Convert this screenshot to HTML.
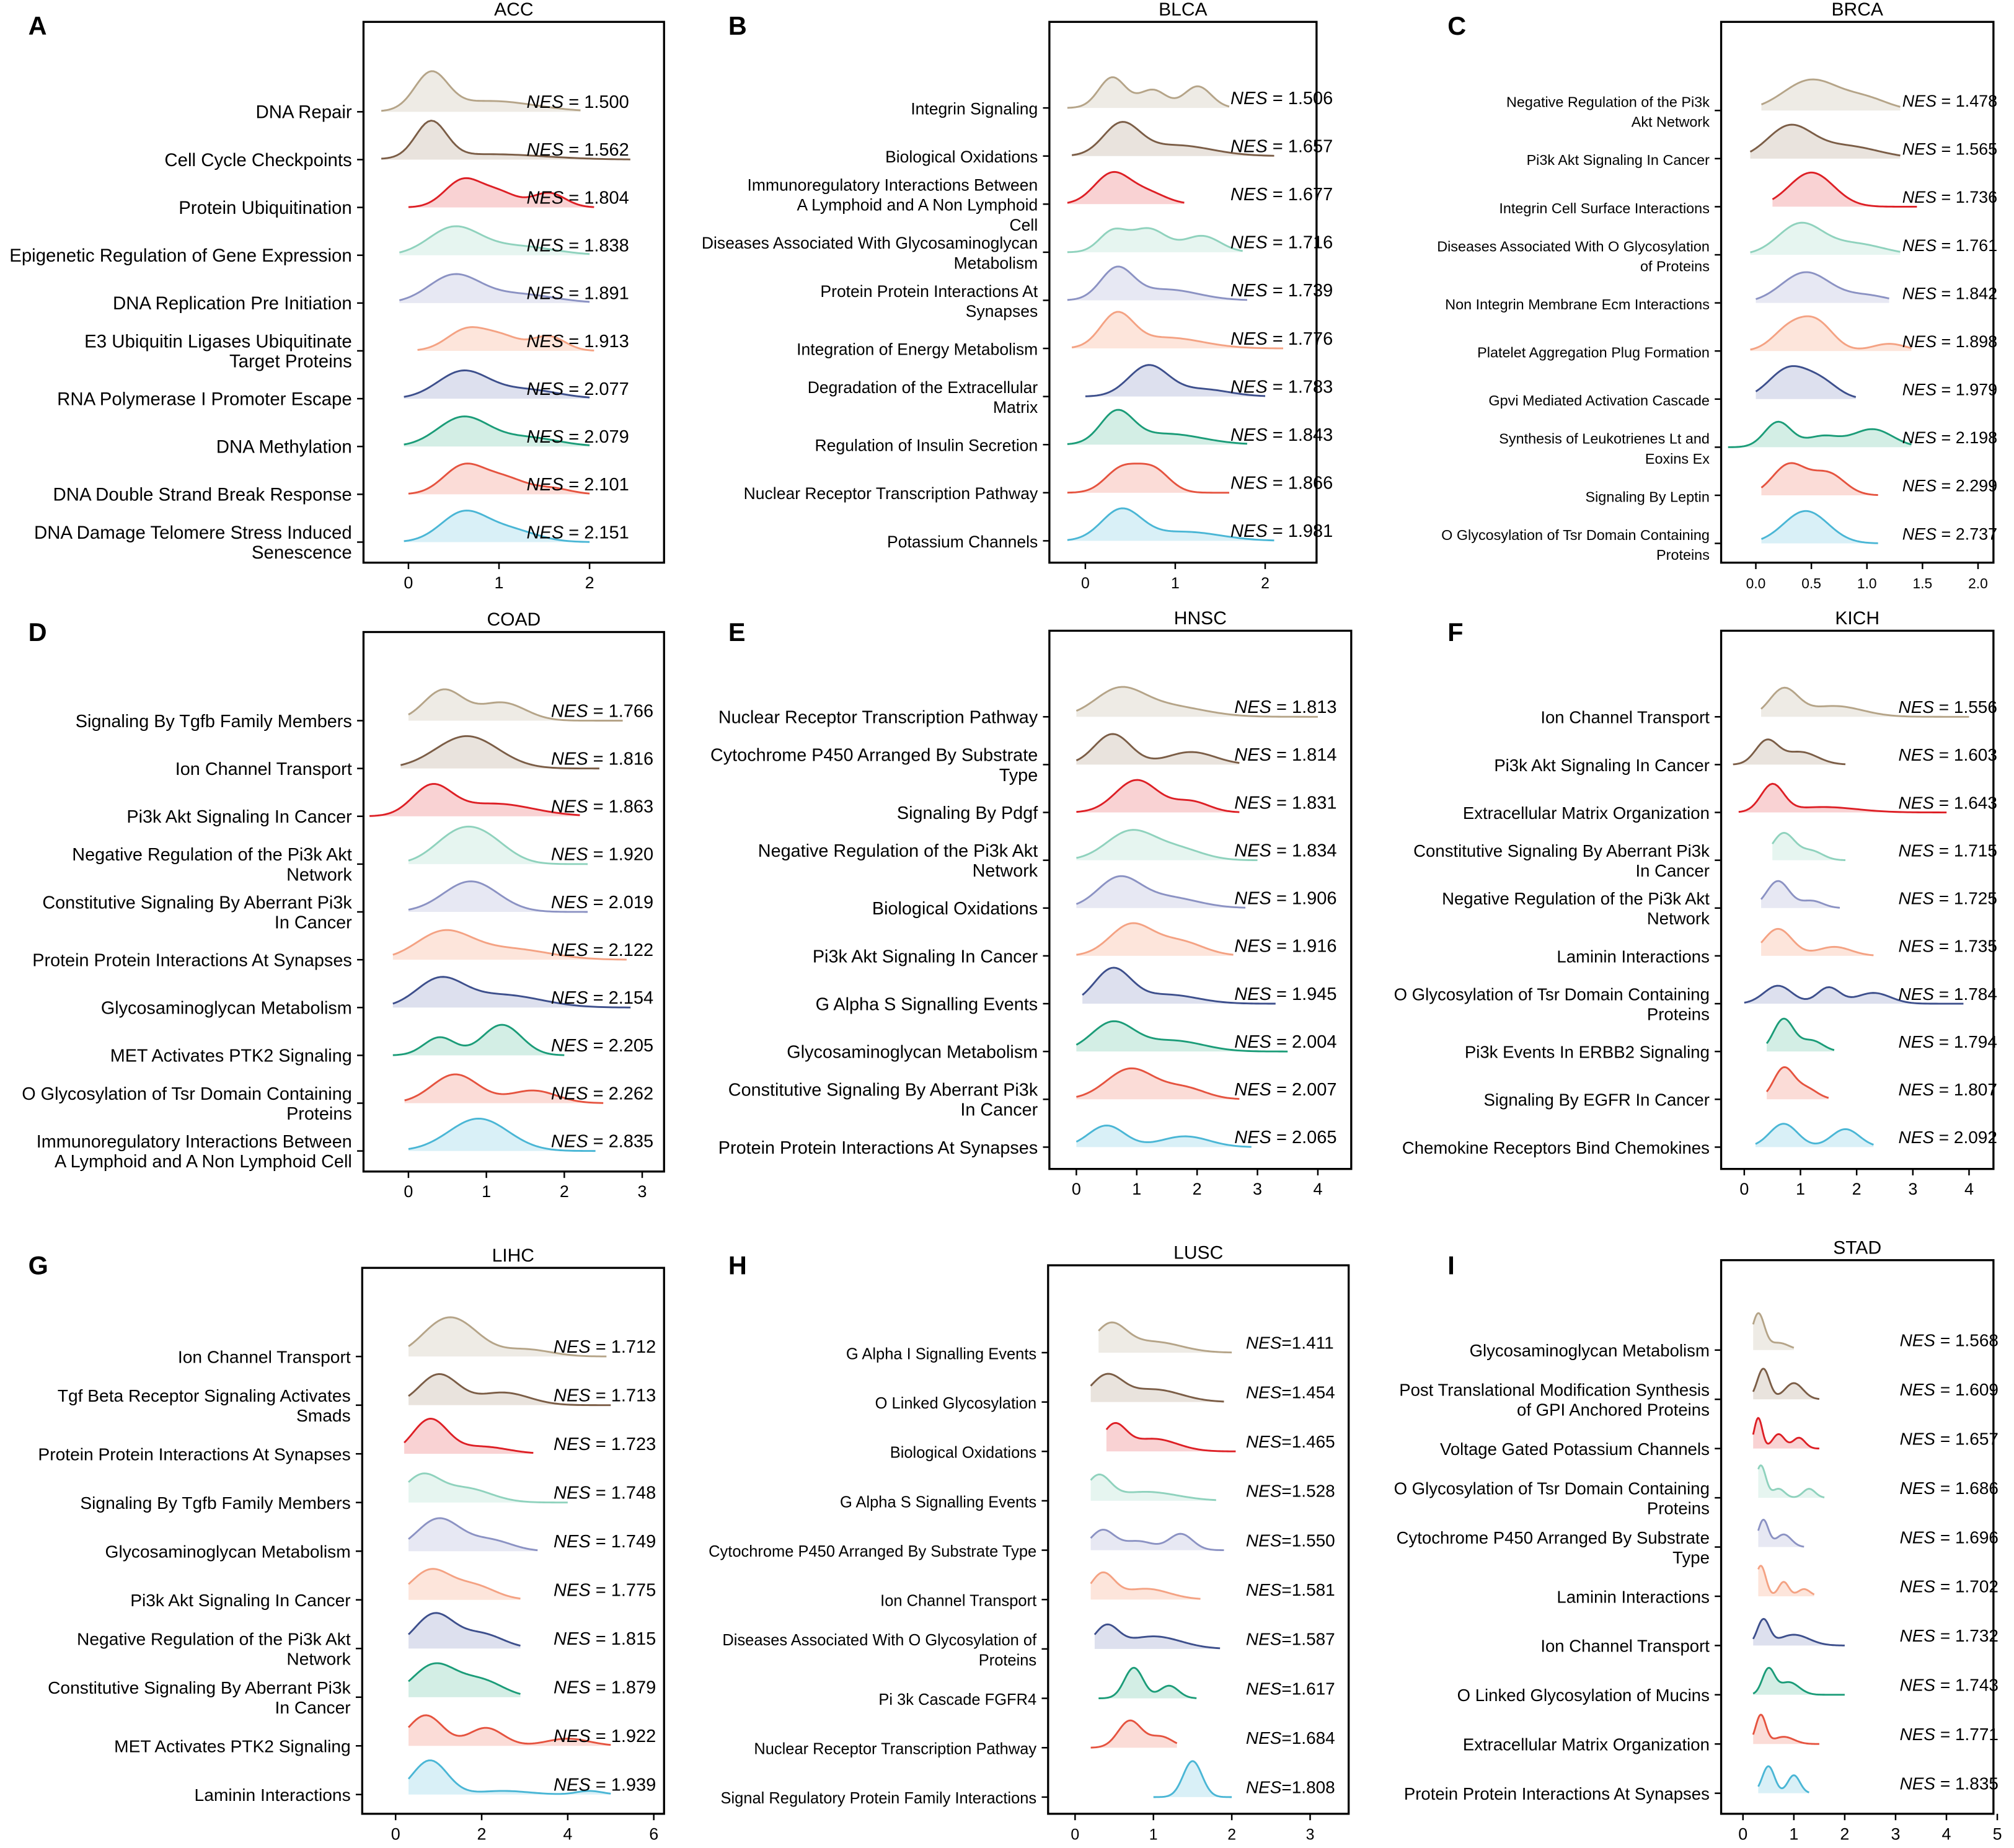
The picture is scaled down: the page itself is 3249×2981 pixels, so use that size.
<!DOCTYPE html>
<html><head><meta charset="utf-8"><style>
html,body{margin:0;padding:0;background:#fff;}
svg{display:block;font-family:"Liberation Sans",Arial,sans-serif;}
</style></head><body>
<svg id="fig" width="3249" height="2981" viewBox="0 0 1568 1438.6" xmlns="http://www.w3.org/2000/svg"></svg>
<script>
// ---- data ----
const colors=["#b5a488","#7b5d46","#dd1f25","#8fd2bd","#8b92c3","#f4a283","#3d4f8c","#1b9c78","#e5533f","#4ab6d5"];
const fills=["#eeebe5","#e9e3dd","#f9d2d3","#e6f5f0","#e7e8f3","#fde5db","#dde0ee","#d3eee5","#fbdcd7","#d9f0f7"];

const panelLetters=["A","B","C","D","E","F","G","H","I"];
const panelTitles=["ACC","BLCA","BRCA","COAD","HNSC","KICH","LIHC","LUSC","STAD"];

const labelsA=["DNA Repair","Cell Cycle Checkpoints","Protein Ubiquitination","Epigenetic Regulation of Gene Expression","DNA Replication Pre Initiation","E3 Ubiquitin Ligases Ubiquitinate\nTarget Proteins","RNA Polymerase I Promoter Escape","DNA Methylation","DNA Double Strand Break Response","DNA Damage Telomere Stress Induced\nSenescence"];
const labelsB=["Integrin Signaling","Biological Oxidations","Immunoregulatory Interactions Between\nA Lymphoid and A Non Lymphoid\nCell","Diseases Associated With Glycosaminoglycan\nMetabolism","Protein Protein Interactions At\nSynapses","Integration of Energy Metabolism","Degradation of the Extracellular\nMatrix","Regulation of Insulin Secretion","Nuclear Receptor Transcription Pathway","Potassium Channels"];
const labelsC=["Negative Regulation of the Pi3k\nAkt Network","Pi3k Akt Signaling In Cancer","Integrin Cell Surface Interactions","Diseases Associated With O Glycosylation\nof Proteins","Non Integrin Membrane Ecm Interactions","Platelet Aggregation Plug Formation","Gpvi Mediated Activation Cascade","Synthesis of Leukotrienes Lt and\nEoxins Ex","Signaling By Leptin","O Glycosylation of Tsr Domain Containing\nProteins"];
const labelsD=["Signaling By Tgfb Family Members","Ion Channel Transport","Pi3k Akt Signaling In Cancer","Negative Regulation of the Pi3k Akt\nNetwork","Constitutive Signaling By Aberrant Pi3k\nIn Cancer","Protein Protein Interactions At Synapses","Glycosaminoglycan Metabolism","MET Activates PTK2 Signaling","O Glycosylation of Tsr Domain Containing\nProteins","Immunoregulatory Interactions Between\nA Lymphoid and A Non Lymphoid Cell"];
const labelsE=["Nuclear Receptor Transcription Pathway","Cytochrome P450 Arranged By Substrate\nType","Signaling By Pdgf","Negative Regulation of the Pi3k Akt\nNetwork","Biological Oxidations","Pi3k Akt Signaling In Cancer","G Alpha S Signalling Events","Glycosaminoglycan Metabolism","Constitutive Signaling By Aberrant Pi3k\nIn Cancer","Protein Protein Interactions At Synapses"];
const labelsF=["Ion Channel Transport","Pi3k Akt Signaling In Cancer","Extracellular Matrix Organization","Constitutive Signaling By Aberrant Pi3k\nIn Cancer","Negative Regulation of the Pi3k Akt\nNetwork","Laminin Interactions","O Glycosylation of Tsr Domain Containing\nProteins","Pi3k Events In ERBB2 Signaling","Signaling By EGFR In Cancer","Chemokine Receptors Bind Chemokines"];
const labelsG=["Ion Channel Transport","Tgf Beta Receptor Signaling Activates\nSmads","Protein Protein Interactions At Synapses","Signaling By Tgfb Family Members","Glycosaminoglycan Metabolism","Pi3k Akt Signaling In Cancer","Negative Regulation of the Pi3k Akt\nNetwork","Constitutive Signaling By Aberrant Pi3k\nIn Cancer","MET Activates PTK2 Signaling","Laminin Interactions"];
const labelsH=["G Alpha I Signalling Events","O Linked Glycosylation","Biological Oxidations","G Alpha S Signalling Events","Cytochrome P450 Arranged By Substrate Type","Ion Channel Transport","Diseases Associated With O Glycosylation of\nProteins","Pi 3k Cascade FGFR4","Nuclear Receptor Transcription Pathway","Signal Regulatory Protein Family Interactions"];
const labelsI=["Glycosaminoglycan Metabolism","Post Translational Modification Synthesis\nof GPI Anchored Proteins","Voltage Gated Potassium Channels","O Glycosylation of Tsr Domain Containing\nProteins","Cytochrome P450 Arranged By Substrate\nType","Laminin Interactions","Ion Channel Transport","O Linked Glycosylation of Mucins","Extracellular Matrix Organization","Protein Protein Interactions At Synapses"];

const nesA=["1.500","1.562","1.804","1.838","1.891","1.913","2.077","2.079","2.101","2.151"];
const nesB=["1.506","1.657","1.677","1.716","1.739","1.776","1.783","1.843","1.866","1.981"];
const nesC=["1.478","1.565","1.736","1.761","1.842","1.898","1.979","2.198","2.299","2.737"];
const nesD=["1.766","1.816","1.863","1.920","2.019","2.122","2.154","2.205","2.262","2.835"];
const nesE=["1.813","1.814","1.831","1.834","1.906","1.916","1.945","2.004","2.007","2.065"];
const nesF=["1.556","1.603","1.643","1.715","1.725","1.735","1.784","1.794","1.807","2.092"];
const nesG=["1.712","1.713","1.723","1.748","1.749","1.775","1.815","1.879","1.922","1.939"];
const nesH=["1.411","1.454","1.465","1.528","1.550","1.581","1.587","1.617","1.684","1.808"];
const nesI=["1.568","1.609","1.657","1.686","1.696","1.702","1.732","1.743","1.771","1.835"];

// density ranges [min,max] and mixture components [mu,sd,amp]
const rangeA=[[-.3,1.9],[-.3,2.45],[0,2.05],[-.1,2.0],[-.1,2.0],[.1,2.05],[-.05,2.0],[-.05,2.0],[0,2.0],[-.05,2.0]];
const compA=[[[.25,.18,1],[.9,.5,.3]],[[.25,.17,1],[.9,.6,.15]],[[.6,.2,.75],[1.0,.2,.4],[1.55,.18,.4]],[[.5,.28,.75],[1.2,.4,.25]],[[.5,.28,.75],[1.2,.4,.25]],[[.65,.22,.6],[1.05,.2,.35],[1.55,.18,.4]],[[.6,.28,.75],[1.3,.35,.25]],[[.6,.28,.8],[1.3,.35,.25]],[[.6,.22,.75],[1.05,.25,.45],[1.6,.2,.15]],[[.6,.25,.78],[1.1,.3,.35]]];
const rangeB=[[-.2,1.6],[-.15,2.1],[-.2,1.1],[-.2,1.75],[-.2,1.8],[-.15,2.2],[0,2.0],[-.2,1.8],[-.2,1.6],[-.2,2.1]];
const compB=[[[.3,.15,.85],[.75,.15,.5],[1.25,.15,.6]],[[.4,.2,.85],[1.0,.4,.3]],[[.3,.2,.85],[.7,.2,.3]],[[.3,.15,.55],[.7,.2,.65],[1.3,.2,.45]],[[.35,.18,.85],[.9,.35,.3]],[[.35,.18,.9],[.9,.4,.3]],[[.7,.22,.85],[1.3,.3,.2]],[[.35,.18,.85],[.9,.4,.3]],[[.4,.18,.65],[.75,.18,.65]],[[.4,.22,.85],[1.1,.4,.25]]];
const rangeC=[[.05,1.3],[-.05,1.3],[.15,1.45],[-.05,1.3],[0,1.2],[-.05,1.4],[0,.9],[-.25,1.4],[.05,1.1],[.05,1.1]];
const compC=[[[.5,.25,.85],[1.0,.2,.3]],[[.3,.2,.85],[.8,.3,.35]],[[.5,.2,.95]],[[.4,.2,.85],[.9,.25,.3]],[[.45,.22,.85],[1.0,.2,.2]],[[.3,.15,.6],[.55,.15,.75],[1.2,.15,.2]],[[.3,.18,.85],[.6,.15,.4]],[[.2,.12,.7],[.6,.15,.3],[1.05,.18,.5]],[[.3,.15,.85],[.65,.15,.6]],[[.45,.2,.9]]];
const rangeD=[[0,2.75],[-.1,2.45],[-.5,2.2],[0,2.3],[0,2.3],[-.2,2.8],[-.2,2.85],[-.2,2.0],[-.05,2.5],[0,2.4]];
const compD=[[[.45,.25,.85],[1.2,.3,.5]],[[.75,.4,.9]],[[.3,.25,.8],[1.1,.5,.35]],[[.6,.3,.7],[1.0,.3,.6]],[[.8,.35,.85]],[[.45,.35,.75],[1.3,.5,.3]],[[.4,.3,.75],[1.2,.5,.35]],[[.4,.2,.5],[1.2,.25,.85]],[[.6,.3,.8],[1.6,.3,.35]],[[.9,.38,.9]]];
const rangeE=[[0,4],[0,2.7],[0,2.7],[0,3.0],[0,2.8],[0,2.6],[.1,3.3],[0,3.5],[0,2.7],[0,2.9]];
const compE=[[[.7,.4,.7],[1.5,.6,.3]],[[.6,.3,.85],[1.9,.4,.35]],[[1.0,.35,.9],[1.9,.3,.3]],[[.9,.4,.8],[1.7,.4,.3]],[[.7,.35,.8],[1.5,.5,.3]],[[.9,.35,.85],[1.7,.4,.4]],[[.6,.3,.95],[1.5,.5,.25]],[[.6,.35,.8],[1.6,.5,.3]],[[.9,.4,.85],[1.8,.35,.3]],[[.5,.3,.6],[1.8,.4,.3]]];
const rangeF=[[.3,4],[-.2,1.8],[-.1,3.6],[.5,1.8],[.3,1.7],[.3,2.3],[0,3.9],[.4,1.6],[.4,1.5],[.2,2.3]];
const compF=[[[.7,.25,.75],[1.6,.5,.3]],[[.4,.2,.65],[1.0,.3,.35]],[[.5,.2,.75],[1.4,.6,.15]],[[.7,.2,.75],[1.2,.2,.25]],[[.6,.2,.75],[1.2,.2,.2]],[[.6,.25,.75],[1.6,.3,.25]],[[.6,.25,.5],[1.5,.2,.45],[2.3,.3,.3]],[[.7,.18,.9],[1.2,.2,.3]],[[.7,.18,.85],[1.1,.2,.3]],[[.7,.25,.65],[1.8,.25,.5]]];
const rangeG=[[.3,4.9],[.3,5.0],[.2,3.2],[.3,4.0],[.3,3.3],[.3,2.9],[.3,2.9],[.3,2.9],[.3,5.0],[.3,5.0]];
const compG=[[[1.0,.5,.7],[1.6,.5,.6],[3,.6,.2]],[[1.0,.45,.85],[2.5,.6,.35]],[[.8,.4,.95],[2.0,.6,.2]],[[.6,.4,.7],[1.6,.6,.4]],[[1.0,.5,.9],[2.2,.5,.3]],[[.8,.45,.8],[1.8,.5,.4]],[[.9,.45,.95],[2.0,.5,.4]],[[.9,.5,.9],[2.0,.5,.45]],[[.7,.4,.85],[2.1,.4,.5],[4,.5,.2]],[[.8,.4,.95],[2.5,.6,.1],[4.5,.3,.1]]];
const rangeH=[[.3,2.0],[.2,1.9],[.4,2.05],[.2,1.8],[.2,1.9],[.2,1.6],[.25,1.85],[.3,1.55],[.2,1.3],[1.0,2.0]];
const compH=[[[.45,.2,.75],[1.0,.35,.3]],[[.4,.2,.7],[1.0,.35,.35]],[[.5,.15,.7],[1.0,.3,.35]],[[.3,.15,.65],[.9,.4,.25]],[[.35,.15,.55],[.8,.2,.25],[1.35,.15,.45]],[[.35,.15,.7],[.9,.3,.3]],[[.4,.15,.6],[1.0,.35,.35]],[[.75,.12,.85],[1.2,.12,.35]],[[.7,.15,.75],[1.1,.15,.3]],[[1.5,.12,1.0]]];
const rangeI=[[.2,1.0],[.2,1.5],[.2,1.5],[.3,1.6],[.3,1.2],[.3,1.4],[.2,2.0],[.2,2.0],[.2,1.5],[.3,1.3]];
const compI=[[[.3,.12,1.0],[.7,.2,.2]],[[.4,.12,.85],[1.0,.18,.45]],[[.3,.08,.85],[.7,.12,.4],[1.1,.12,.3]],[[.35,.1,.9],[.7,.12,.25],[1.3,.12,.25]],[[.4,.1,.75],[.8,.15,.35]],[[.35,.1,.85],[.8,.1,.4],[1.2,.12,.2]],[[.4,.12,.7],[1.0,.3,.3]],[[.5,.12,.7],[.9,.2,.35]],[[.35,.1,.8],[.8,.2,.2]],[[.5,.12,.75],[1.0,.12,.5]]];

const ticksA=["0","1","2"], ticksB=["0","1","2"], ticksC=["0.0","0.5","1.0","1.5","2.0"];
const ticksD=["0","1","2","3"], ticksE=["0","1","2","3","4"], ticksF=["0","1","2","3","4"];
const ticksG=["0","2","4","6"], ticksH=["0","1","2","3"], ticksI=["0","1","2","3","4","5"];

// ---- layout ----
const L=[
 {box:[283,17,517,438],x0:318,x1:459,v0:0,v1:2,rows:[87,422],nesX:410,lf:14.2,nf:14,lx:[22,27],tf:13},
 {box:[817,17,1025,438],x0:845,x1:985,v0:0,v1:2,rows:[84,421],nesX:958,lf:12.8,nf:14,lx:[567,27],tf:12},
 {box:[1340,17,1552,438],x0:1367,x1:1540,v0:0,v1:2,rows:[86,423],nesX:1481,lf:11.3,nf:13,lx:[1127,27],tf:11},
 {box:[283,492,517,912],x0:318,x1:500,v0:0,v1:3,rows:[561,896],nesX:429,lf:13.9,nf:14,lx:[22,499],tf:13},
 {box:[817,491,1052,910],x0:838,x1:1026,v0:0,v1:4,rows:[558,893],nesX:961,lf:13.9,nf:14,lx:[567,499],tf:13},
 {box:[1340,491,1552,910],x0:1358,x1:1533,v0:0,v1:4,rows:[558,893],nesX:1478,lf:13.3,nf:13.5,lx:[1127,499],tf:13},
 {box:[282,987,517,1412],x0:308,x1:509,v0:0,v1:6,rows:[1056,1397],nesX:431,lf:13.6,nf:14,lx:[22,992],tf:13},
 {box:[816,985,1050,1412],x0:837,x1:1020,v0:0,v1:3,rows:[1053,1399],nesX:970,lf:12.3,nf:13.5,lx:[567,992],tf:12},
 {box:[1340,981,1552,1412],x0:1357,x1:1555,v0:0,v1:5,rows:[1051,1396],nesX:1479,lf:13.3,nf:13.5,lx:[1127,992],tf:13}
];
const allLabels=[labelsA,labelsB,labelsC,labelsD,labelsE,labelsF,labelsG,labelsH,labelsI];
const allNes=[nesA,nesB,nesC,nesD,nesE,nesF,nesG,nesH,nesI];
const allRange=[rangeA,rangeB,rangeC,rangeD,rangeE,rangeF,rangeG,rangeH,rangeI];
const allComp=[compA,compB,compC,compD,compE,compF,compG,compH,compI];
const allTicks=[ticksA,ticksB,ticksC,ticksD,ticksE,ticksF,ticksG,ticksH,ticksI];

const NS="http://www.w3.org/2000/svg";
const svg=document.getElementById('fig');
function mk(tag,attrs,parent){const e=document.createElementNS(NS,tag);for(const k in attrs)e.setAttribute(k,attrs[k]);(parent||svg).appendChild(e);return e;}
const RH=28;

L.forEach((p,pi)=>{
  const g=mk('g',{});
  
  
  const [bx0,by0,bx1,by1]=p.box;
  const xs=v=>p.x0+(v-p.v0)/(p.v1-p.v0)*(p.x1-p.x0);
  const ys=i=>p.rows[0]+i*(p.rows[1]-p.rows[0])/9;
  const lt=mk('text',{x:p.lx[0],y:p.lx[1],'font-size':20,'font-weight':'bold'},g);lt.textContent=panelLetters[pi];
  
  
  const tt=mk('text',{x:(bx0+bx1)/2,y:by0-5,'font-size':14.5,'text-anchor':'middle'},g);tt.textContent=panelTitles[pi];
  
  
  // ridges
  allComp[pi].forEach((comps,i)=>{
    const [lo,hi]=allRange[pi][i];const base=ys(i);
    const pts=[];
    for(let k=0;k<=80;k++){const v=lo+(hi-lo)*k/80;let h=0;comps.forEach(c=>{h+=c[2]*Math.exp(-0.5*Math.pow((v-c[0])/c[1],2));});pts.push([xs(v),base-h*RH]);}
    const line='M'+pts.map(q=>q[0].toFixed(2)+','+q[1].toFixed(2)).join('L');
    const area=mk('path',{d:line+'L'+xs(hi).toFixed(2)+','+base+'L'+xs(lo).toFixed(2)+','+base+'Z',fill:fills[i],stroke:'none'},g);
    
    
    const ln=mk('path',{d:line,fill:'none',stroke:colors[i],'stroke-width':1.4},g);
    
    
  });
  // NES labels
  allNes[pi].forEach((n,i)=>{
    const t=mk('text',{x:p.nesX,y:ys(i)-3,'font-size':p.nf},g);
    
    
    const a=mk('tspan',{'font-style':'italic'},t);a.textContent='NES';
    const b=mk('tspan',{},t);b.textContent=(pi===7?'=':' = ')+n;
  });
  // box
  const r=mk('rect',{x:bx0,y:by0,width:bx1-bx0,height:by1-by0,fill:'none',stroke:'#000','stroke-width':1.6},g);
  
  
  // y labels
  allLabels[pi].forEach((lab,i)=>{
    const y=ys(i);
    mk('line',{x1:bx0-5,x2:bx0,y1:y,y2:y,stroke:'#000','stroke-width':1.2},g);
    const lines=lab.split('\n');const n=lines.length;
    const t=mk('text',{'font-size':p.lf,'text-anchor':'end'},g);
    
    
    lines.forEach((s,j)=>{const ts=mk('tspan',{x:bx0-9,y:y+5+(j-(n-1)/2)*15.5},t);ts.textContent=s;});
  });
  // x ticks
  const tk=allTicks[pi];
  tk.forEach((s,j)=>{
    const v=p.v0+j*(p.v1-p.v0)/(tk.length-1);const x=xs(v);
    mk('line',{x1:x,x2:x,y1:by1,y2:by1+5,stroke:'#000','stroke-width':1.2},g);
    const t=mk('text',{x:x,y:by1+20,'font-size':p.tf,'text-anchor':'middle'},g);t.textContent=s;
    
    
  });
});
</script>
</body></html>
